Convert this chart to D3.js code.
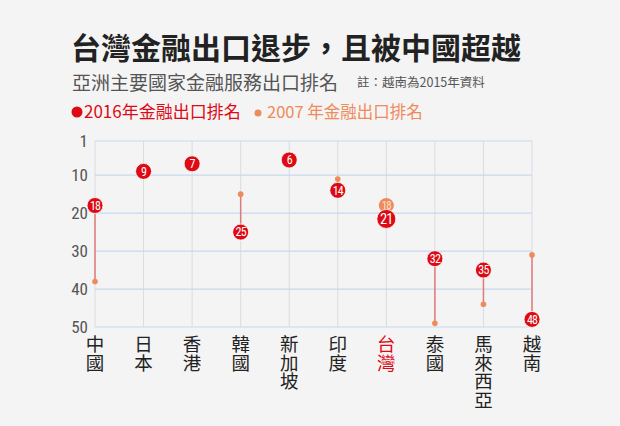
<!DOCTYPE html>
<html>
<head>
<meta charset="utf-8">
<script src="https://cdn.jsdelivr.net/npm/d3@7"></script>
<style>
  body { margin: 0; background: #f4f4f4; }
  svg { display: block; font-family: "Noto Sans CJK TC", "Noto Sans", sans-serif; }
  .cat { writing-mode: vertical-rl; text-orientation: upright; }
</style>
</head>
<body>
<div id="chart"></div>
<script>
const countries = ["中國", "日本", "香港", "韓國", "新加坡", "印度", "台灣", "泰國", "馬來西亞", "越南"];
const rank2016 = [18, 9, 7, 25, 6, 14, 21, 32, 35, 48];
const rank2007 = [38, 8, 6, 15, 7, 11, 18, 49, 44, 31];
const yTicks = [1, 10, 20, 30, 40, 50];

const width = 620, height = 426;
const red = "#dd0a14", orange = "#ef8a5a", stem = "#e07a7a";

const svg = d3.select("#chart").append("svg")
    .attr("width", width)
    .attr("height", height);

svg.append("rect").attr("width", width).attr("height", height).attr("fill", "#f4f4f4");

// titles
svg.append("text").attr("x", 71).attr("y", 59)
    .attr("font-size", 30).attr("font-weight", "bold").attr("fill", "#222")
    .text("台灣金融出口退步，且被中國超越");
svg.append("text").attr("x", 72).attr("y", 90)
    .attr("font-size", 19).attr("fill", "#555")
    .text("亞洲主要國家金融服務出口排名");
svg.append("text").attr("x", 357).attr("y", 87)
    .attr("font-size", 12.5).attr("fill", "#555")
    .text("註：越南為2015年資料");

// legend
svg.append("circle").attr("cx", 77).attr("cy", 112).attr("r", 5.5).attr("fill", red);
svg.append("text").attr("x", 84).attr("y", 118)
    .attr("font-size", 17).attr("fill", red)
    .text("2016年金融出口排名");
svg.append("circle").attr("cx", 258).attr("cy", 113).attr("r", 3.5).attr("fill", orange);
svg.append("text").attr("x", 267).attr("y", 118)
    .attr("font-size", 16.5).attr("fill", orange)
    .text("2007 年金融出口排名");

const x = d3.scalePoint()
    .domain(countries)
    .range([95, 532]);

const y = d3.scaleLinear()
    .domain([1, 50])
    .range([141, 327]);

// grid
svg.append("g")
    .selectAll("line")
    .data(countries)
    .join("line")
    .attr("x1", d => x(d)).attr("x2", d => x(d))
    .attr("y1", y(1)).attr("y2", y(50))
    .attr("stroke", "#d8dce3").attr("stroke-width", 1);

svg.append("g")
    .selectAll("line")
    .data(yTicks)
    .join("line")
    .attr("x1", x(countries[0])).attr("x2", x(countries[countries.length - 1]))
    .attr("y1", d => y(d)).attr("y2", d => y(d))
    .attr("stroke", "#c8d8ee").attr("stroke-width", 1.2);

// y axis labels
const yAxis = svg.append("g")
    .attr("transform", `translate(${x(countries[0])},0)`)
    .call(d3.axisLeft(y).tickValues(yTicks).tickSize(0).tickPadding(7));
yAxis.select(".domain").remove();
yAxis.selectAll("text")
    .attr("font-size", 17)
    .attr("fill", "#555")
    .attr("font-family", "'Roboto Condensed', 'Liberation Sans Narrow', Roboto, sans-serif");

// x category labels, written vertically
svg.append("g")
    .selectAll("text")
    .data(countries)
    .join("text")
    .attr("class", "cat")
    .attr("x", d => x(d))
    .attr("y", 335)
    .attr("font-size", 18.5)
    .attr("fill", d => d === "台灣" ? red : "#222")
    .text(d => d);

const data = countries.map((c, i) => ({c, a: rank2016[i], b: rank2007[i]}));

// stems
svg.append("g")
    .selectAll("line")
    .data(data)
    .join("line")
    .attr("x1", d => x(d.c)).attr("x2", d => x(d.c))
    .attr("y1", d => y(d.a)).attr("y2", d => y(d.b))
    .attr("stroke", stem).attr("stroke-width", 1.5);

// 2007 markers
svg.append("g")
    .selectAll("circle")
    .data(data.filter(d => d.c !== "台灣"))
    .join("circle")
    .attr("cx", d => x(d.c)).attr("cy", d => y(d.b))
    .attr("r", 2.8).attr("fill", orange);

const num = "'Roboto Condensed', 'Liberation Sans Narrow', 'DejaVu Sans Condensed', sans-serif";

// Taiwan 2007 labeled marker
const tw = data.find(d => d.c === "台灣");
svg.append("circle").attr("cx", x(tw.c)).attr("cy", y(tw.b))
    .attr("r", 7.5).attr("fill", orange);
svg.append("text").attr("x", x(tw.c)).attr("y", y(tw.b) - 0.5)
    .attr("dy", "0.36em").attr("text-anchor", "middle")
    .attr("font-size", 11).attr("fill", "#fbe3d6")
    .attr("font-family", num).attr("letter-spacing", -0.8)
    .text(tw.b);

// 2016 markers
const g16 = svg.append("g")
    .selectAll("g")
    .data(data)
    .join("g")
    .attr("transform", d => `translate(${x(d.c)},${y(d.a) + (d.c === "台灣" ? 2 : 0)})`);
g16.append("circle")
    .attr("r", d => d.c === "台灣" ? 9.5 : 8)
    .attr("fill", red)
    .attr("stroke", "#fff").attr("stroke-width", 0.8);
g16.append("text")
    .attr("text-anchor", "middle").attr("dy", "0.36em")
    .attr("font-size", d => d.c === "台灣" ? 14.5 : 12)
    .attr("fill", "#fff")
    .attr("font-family", num)
    .attr("letter-spacing", -0.8)
    .text(d => d.a);
</script>
</body>
</html>
